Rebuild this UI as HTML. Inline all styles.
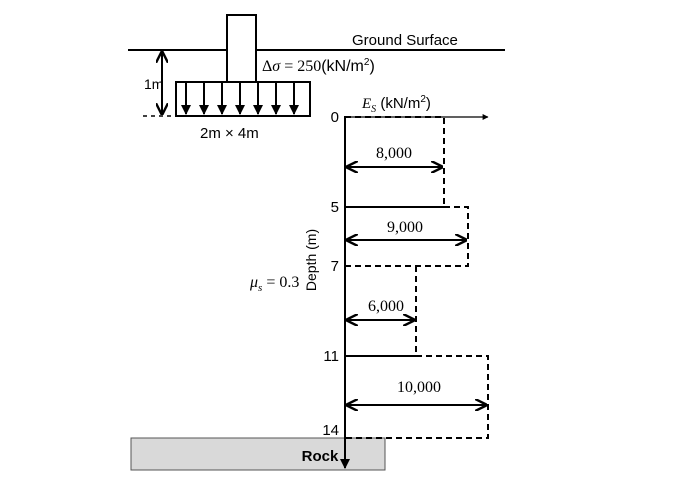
<!DOCTYPE html>
<html><head><meta charset="utf-8"><style>
html,body{margin:0;padding:0;background:#fff;}
svg{display:block;font-family:"Liberation Sans",sans-serif;}
.s{font-family:"Liberation Serif",serif;}
</style></head><body>
<svg width="689" height="495" viewBox="0 0 689 495" xmlns="http://www.w3.org/2000/svg">
<defs>
<marker id="a" viewBox="0 0 10 10" refX="9" refY="5" markerWidth="5" markerHeight="5" orient="auto-start-reverse"><path d="M0,0 L10,5 L0,10 z" fill="#000"/></marker>
<marker id="b" viewBox="0 0 10 10" refX="9" refY="5" markerWidth="6" markerHeight="6" orient="auto-start-reverse"><path d="M0,0 L10,5 L0,10" fill="none" stroke="#000" stroke-width="2"/></marker>
</defs>
<!-- ground -->
<line x1="128" y1="50" x2="505" y2="50" stroke="#000" stroke-width="2"/>
<text x="352" y="45" font-size="15">Ground Surface</text>
<!-- column -->
<rect x="227" y="15" width="29" height="67" fill="#fff" stroke="#000" stroke-width="2"/>
<!-- footing -->
<rect x="176" y="82" width="134" height="34" fill="#fff" stroke="#000" stroke-width="2"/>
<g stroke="#000" stroke-width="2" marker-end="url(#a)">
<line x1="186" y1="83" x2="186" y2="114"/>
<line x1="204" y1="83" x2="204" y2="114"/>
<line x1="222" y1="83" x2="222" y2="114"/>
<line x1="240" y1="83" x2="240" y2="114"/>
<line x1="258" y1="83" x2="258" y2="114"/>
<line x1="276" y1="83" x2="276" y2="114"/>
<line x1="294" y1="83" x2="294" y2="114"/>
</g>
<line x1="162" y1="52" x2="162" y2="114" stroke="#000" stroke-width="2" marker-start="url(#b)" marker-end="url(#b)"/>
<text x="144" y="89" font-size="14">1m</text>
<line x1="143" y1="116" x2="176" y2="116" stroke="#000" stroke-width="1.5" stroke-dasharray="4,4"/>
<text x="200" y="138" font-size="15">2m × 4m</text>
<text x="262" y="71" font-size="16"><tspan class="s">Δ<tspan font-style="italic">σ</tspan> = 250</tspan>(kN/m<tspan font-size="10" dy="-6">2</tspan><tspan dy="6">)</tspan></text>
<text x="362" y="108" font-size="15"><tspan class="s" font-style="italic">E<tspan font-size="10" dy="4">S</tspan></tspan><tspan dy="-4"> (kN/m</tspan><tspan font-size="10" dy="-6">2</tspan><tspan dy="6">)</tspan></text>
<!-- rock -->
<rect x="131" y="438" width="254" height="32" fill="#d9d9d9" stroke="#555" stroke-width="1"/>
<text x="320" y="461" font-size="15" font-weight="bold" text-anchor="middle">Rock</text>
<!-- axes -->
<line x1="345" y1="117" x2="488" y2="117" stroke="#000" stroke-width="1.2" marker-end="url(#a)"/>
<line x1="345" y1="116" x2="345" y2="468" stroke="#000" stroke-width="2" marker-end="url(#a)"/>
<!-- layers -->
<g fill="none" stroke="#000" stroke-width="2" stroke-dasharray="6,4">
<polyline points="345,117 444,117 444,207"/>
<polyline points="444,207 468,207 468,266 345,266"/>
<polyline points="416,266 416,356"/>
<polyline points="416,356 488,356 488,438 345,438"/>
</g>
<line x1="345" y1="207" x2="444" y2="207" stroke="#000" stroke-width="2"/>
<line x1="345" y1="356" x2="416" y2="356" stroke="#000" stroke-width="2"/>
<g stroke="#000" stroke-width="2" marker-start="url(#b)" marker-end="url(#b)">
<line x1="347" y1="167" x2="442" y2="167"/>
<line x1="347" y1="240" x2="466" y2="240"/>
<line x1="347" y1="320" x2="414" y2="320"/>
<line x1="347" y1="405" x2="486" y2="405"/>
</g>
<g class="s" font-size="16" text-anchor="middle">
<text x="394" y="158">8,000</text>
<text x="405" y="232">9,000</text>
<text x="386" y="311">6,000</text>
<text x="419" y="392">10,000</text>
</g>
<g font-size="15" text-anchor="end">
<text x="339" y="122">0</text>
<text x="339" y="212">5</text>
<text x="339" y="271">7</text>
<text x="339" y="361">11</text>
<text x="339" y="435">14</text>
</g>
<text transform="translate(316,260) rotate(-90)" font-size="14" text-anchor="middle">Depth (m)</text>
<text x="250" y="287" font-size="16" class="s"><tspan font-style="italic">μ<tspan font-size="11" dy="4">s</tspan></tspan><tspan dy="-4"> = 0.3</tspan></text>
</svg>
</body></html>
